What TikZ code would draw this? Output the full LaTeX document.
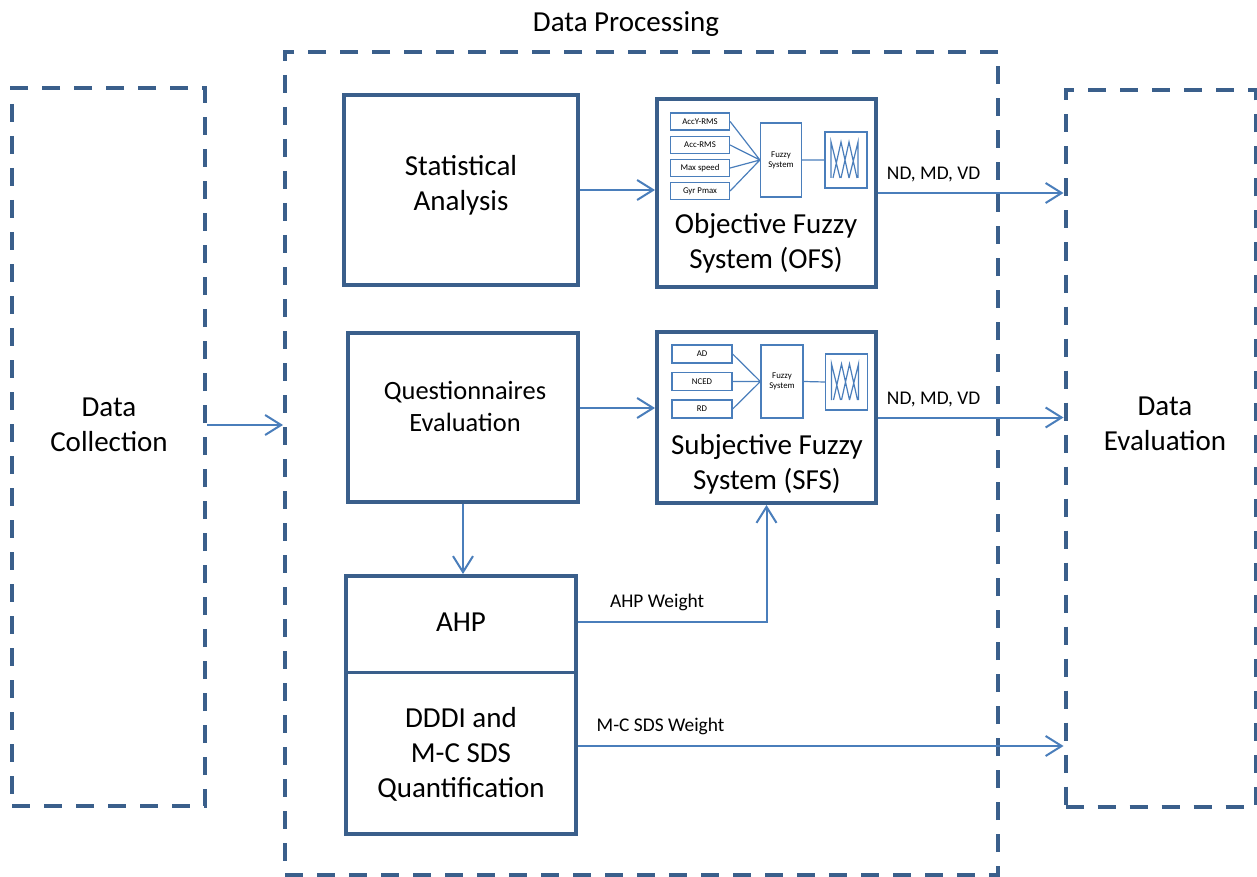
\documentclass[tikz,border=0pt]{standalone}
\usepackage{fontspec}
\setmainfont{Carlito}
\usetikzlibrary{arrows.meta}

\definecolor{frameblue}{HTML}{3A5F8B}
\definecolor{lineblue}{HTML}{4A7EBB}

\tikzset{
  dashbox/.style={draw=frameblue, line width=2pt, dash pattern=on 9pt off 7pt, inner sep=0pt},
  blockbox/.style={draw=frameblue, line width=2pt, inner sep=0pt, align=center},
  smallbox/.style={draw=lineblue, line width=0.6pt, inner sep=0pt, align=center, font=\fontsize{4.4}{5}\selectfont},
  arr/.style={draw=lineblue, line width=1pt, -{Straight Barb[length=8pt,width=10pt,line width=1pt]}},
  thin/.style={draw=lineblue, line width=0.6pt},
  lbl/.style={font=\fontsize{9.7}{11}\selectfont, inner sep=5pt}
}

\newcommand{\memberfns}[1]{%
  \draw[thin, shift={(#1)}] (-15,18) -- (-15,-18) -- (-6,18)
    (-13,18) -- (-5,-18) -- (3,18)
    (-5,18) -- (3,-18) -- (11,18)
    (3,18) -- (12,-18) -- (12,18);}

\begin{document}
\begin{tikzpicture}[x=0.5pt, y=-0.5pt, font=\fontsize{14.5}{17.5}\selectfont]
\useasboundingbox (0,0) rectangle (1257,877);

% outer frames
\node[dashbox, minimum width=96.5pt, minimum height=359pt] (dc) at (108.5,447) {};
\node[align=center] (dctxt) at (109,425) {Data\\Collection};
\node[dashbox, minimum width=356.5pt, minimum height=411.5pt] (dp) at (641.5,463.5) {};
\node (dptxt) at (626,24) {Data Processing};
\node[dashbox, minimum width=95pt, minimum height=358pt] (de) at (1160.5,448.5) {};
\node[align=center] (detxt) at (1165,424) {Data\\Evaluation};

% processing blocks
\node[blockbox, minimum width=117pt, minimum height=95pt] (sa) at (461,190) {};
\node[align=center] (satxt) at (461,185) {Statistical\\Analysis};
\node[blockbox, minimum width=115pt, minimum height=84.5pt] (qe) at (463,417.5) {};
\node[align=center, font=\fontsize{13.2}{16}\selectfont] (qetxt) at (465,406) {Questionnaires\\Evaluation};
\node[blockbox, minimum width=115pt, minimum height=129pt] (ahp) at (461,705) {};
\node (ahptxt) at (461,622) {AHP};
\node[align=center] (ddtxt) at (461,754) {DDDI and\\M-C SDS\\Quantification};
\coordinate (split) at (461,672);
\draw[draw=frameblue, line width=1.5pt] (ahp.west |- split) -- (ahp.east |- split);

% objective fuzzy system
\node[blockbox, minimum width=109.5pt, minimum height=94pt] (ofs) at (766.5,193) {};
\node[align=center] (ofstxt) at (766,243) {Objective Fuzzy\\System (OFS)};
\node[smallbox, minimum width=29.5pt, minimum height=8.5pt] (accy) at (700,121.5) {AccY-RMS};
\node[smallbox, minimum width=29.5pt, minimum height=8.5pt] (acc) at (700,145) {Acc-RMS};
\node[smallbox, minimum width=29.5pt, minimum height=8.5pt] (maxs) at (700,168) {Max speed};
\node[smallbox, minimum width=29.5pt, minimum height=8.5pt] (gyr) at (700,191) {Gyr Pmax};
\node[smallbox, minimum width=20.5pt, minimum height=37pt] (ofuz) at (781,160) {Fuzzy\\System};
\node[smallbox, minimum width=21pt, minimum height=28pt] (oout) at (846,160) {};
\draw[thin] (accy.east) -- (ofuz.west) (acc.east) -- (ofuz.west)
  (maxs.east) -- (ofuz.west) (gyr.east) -- (ofuz.west) (ofuz.east) -- (oout.west);
\memberfns{oout}

% subjective fuzzy system
\node[blockbox, minimum width=109.5pt, minimum height=85.5pt] (sfs) at (766.5,417.5) {};
\node[align=center] (sfstxt) at (767,464) {Subjective Fuzzy\\System (SFS)};
\node[smallbox, minimum width=30pt, minimum height=9pt] (ad) at (702,354) {AD};
\node[smallbox, minimum width=30pt, minimum height=9pt] (nced) at (702,381.5) {NCED};
\node[smallbox, minimum width=30pt, minimum height=9pt] (rd) at (702,409) {RD};
\node[smallbox, minimum width=21pt, minimum height=36.5pt] (sfuz) at (782,381.5) {Fuzzy\\System};
\node[smallbox, minimum width=21pt, minimum height=28pt] (sout) at (846.5,382) {};
\draw[thin] (ad.east) -- (sfuz.west) (nced.east) -- (sfuz.west)
  (rd.east) -- (sfuz.west) (sfuz.east) -- (sout.west);
\memberfns{sout}

% connectors
\draw[arr] (dc.east |- dctxt) -- (dp.west |- dctxt);
\draw[arr] (sa.east) -- (sa.east -| ofs.west);
\draw[arr] (ofs.east) -- node[lbl, above, pos=0.3] {ND, MD, VD} (ofs.east -| de.west);
\draw[arr] ([yshift=4.75pt]qe.east) -- ([yshift=4.75pt]qe.east -| sfs.west);
\draw[arr] (sfs.east) -- node[lbl, above, pos=0.3] {ND, MD, VD} (sfs.east -| de.west);
\draw[arr] (qe.south) -- (qe.south |- ahp.north);
\draw[arr] (ahp.east |- ahptxt) -| node[lbl, above, pos=0.21] {AHP Weight} (sfs.south);
\draw[arr] ([yshift=4pt]ahp.east |- ddtxt) -- node[lbl, above, pos=0.17] {M-C SDS Weight} ([yshift=4pt]de.west |- ddtxt);
\end{tikzpicture}
\end{document}
